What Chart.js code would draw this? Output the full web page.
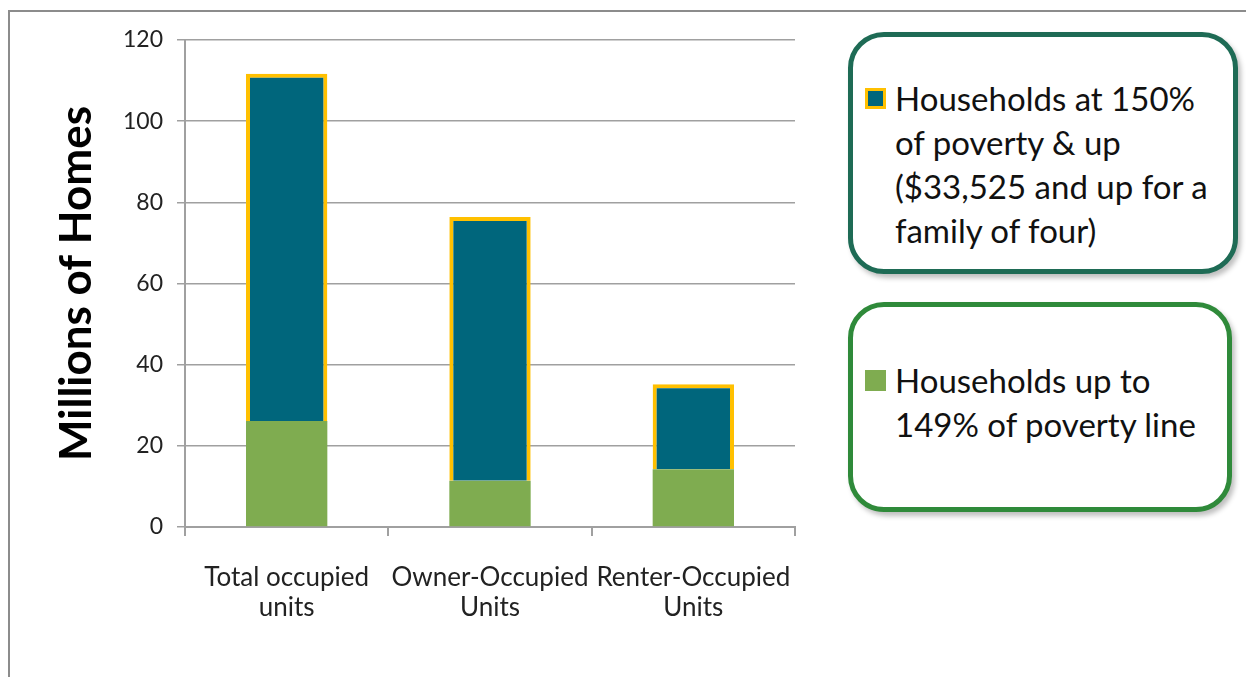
<!DOCTYPE html>
<html>
<head>
<meta charset="utf-8">
<script src="https://cdn.jsdelivr.net/npm/chart.js@4.4.1/dist/chart.umd.min.js"></script>
<style>
  html, body { margin: 0; padding: 0; background: #fff; }
  body { width: 1246px; height: 677px; position: relative; overflow: hidden; font-family: Lato, "Open Sans", sans-serif; }
  #frame { position: absolute; left: 8px; top: 10px; width: 1300px; height: 720px; border: 2px solid #8c8c8c; box-sizing: border-box; }
  #wrap { position: absolute; left: 0; top: 0; width: 840px; height: 677px; }
  .lg { position: absolute; box-sizing: border-box; background: #fff; border-radius: 36px; border: 5px solid; box-shadow: 3px 4px 5px rgba(0,0,0,0.25); }
  .lg .row { position: absolute; left: 42px; font-size: 33px; line-height: 44px; color: #111; white-space: nowrap; }
  .lg .sw { position: absolute; left: -30px; top: 12px; width: 21px; height: 21px; box-sizing: border-box; }
</style>
</head>
<body>
<div id="frame"></div>
<div id="wrap"><canvas id="chart"></canvas></div>
<div id="legends"></div>
<script>
const categories = [["Total occupied", "units"], ["Owner-Occupied", "Units"], ["Renter-Occupied", "Units"]];
const lowIncome = [26.1, 11.4, 14.2];
const upperIncome = [85.6, 65.0, 21.0];
const seriesNames = ["Households up to 149% of poverty line", "Households at 150% of poverty & up ($33,525 and up for a family of four)"];
const legendLines = [
  ["Households up to", "149% of poverty line"],
  ["Households at 150%", "of poverty & up", "($33,525 and up for a", "family of four)"]
];
const yTicks = [0, 20, 40, 60, 80, 100, 120];

const green = '#7fac50';
const teal = '#00667c';
const gold = '#ffc000';

const chart = new Chart(document.getElementById('chart'), {
  type: 'bar',
  data: {
    labels: categories,
    datasets: [
      { label: seriesNames[0], data: lowIncome, backgroundColor: green, borderWidth: 0 },
      { label: seriesNames[1], data: upperIncome, backgroundColor: teal, borderColor: gold, borderWidth: 4 }
    ]
  },
  options: {
    responsive: true,
    maintainAspectRatio: false,
    animation: false,
    layout: { padding: { left: 0, right: 45, top: 40, bottom: 0 } },
    plugins: { legend: { display: false }, tooltip: { enabled: false } },
    datasets: { bar: { barPercentage: 0.4, categoryPercentage: 1 } },
    scales: {
      x: {
        stacked: true,
        offset: true,
        border: { color: '#a0a0a0', width: 2 },
        grid: { offset: true, drawOnChartArea: false, drawTicks: true, tickLength: 9, color: '#a0a0a0', lineWidth: 2 },
        ticks: { color: '#222', font: { family: 'Lato', size: 26, lineHeight: 1.15 }, padding: 27, maxRotation: 0, autoSkip: false },
        afterFit: s => { s.height = 150; }
      },
      y: {
        stacked: true,
        min: 0, max: 120,
        afterBuildTicks: s => { s.ticks = yTicks.map(v => ({ value: v })); },
        border: { color: '#a0a0a0', width: 2 },
        grid: { color: '#a0a0a0', lineWidth: 1.5, drawTicks: true, tickLength: 8 },
        ticks: { color: '#222', font: { family: 'Lato', size: 23 }, padding: 14 },
        title: { display: true, text: 'Millions of Homes', color: '#000', font: { family: 'Lato', size: 44, weight: 'bold' }, padding: { top: 50, bottom: 0 } },
        afterFit: s => { s.width = 185; }
      }
    }
  }
});

// legend boxes, drawn from the chart's datasets
const boxes = [
  { ds: 1, left: 848, top: 32, width: 390, height: 242, border: '#1e6b55', firstRow: 61 },
  { ds: 0, left: 848, top: 302, width: 384, height: 210, border: '#2f8a3a', firstRow: 73 }
];
const host = document.getElementById('legends');
boxes.forEach(b => {
  const ds = chart.data.datasets[b.ds];
  const box = document.createElement('div');
  box.className = 'lg';
  Object.assign(box.style, { left: b.left + 'px', top: b.top + 'px', width: b.width + 'px', height: b.height + 'px', borderColor: b.border });
  legendLines[b.ds].forEach((line, i) => {
    const row = document.createElement('div');
    row.className = 'row';
    row.style.top = (b.firstRow - 22 + i * 44) + 'px';
    row.textContent = line;
    if (i === 0) {
      const sw = document.createElement('span');
      sw.className = 'sw';
      sw.style.background = ds.backgroundColor;
      if (ds.borderWidth) sw.style.border = '3px solid ' + ds.borderColor;
      row.appendChild(sw);
    }
    box.appendChild(row);
  });
  host.appendChild(box);
});
</script>
</body>
</html>
